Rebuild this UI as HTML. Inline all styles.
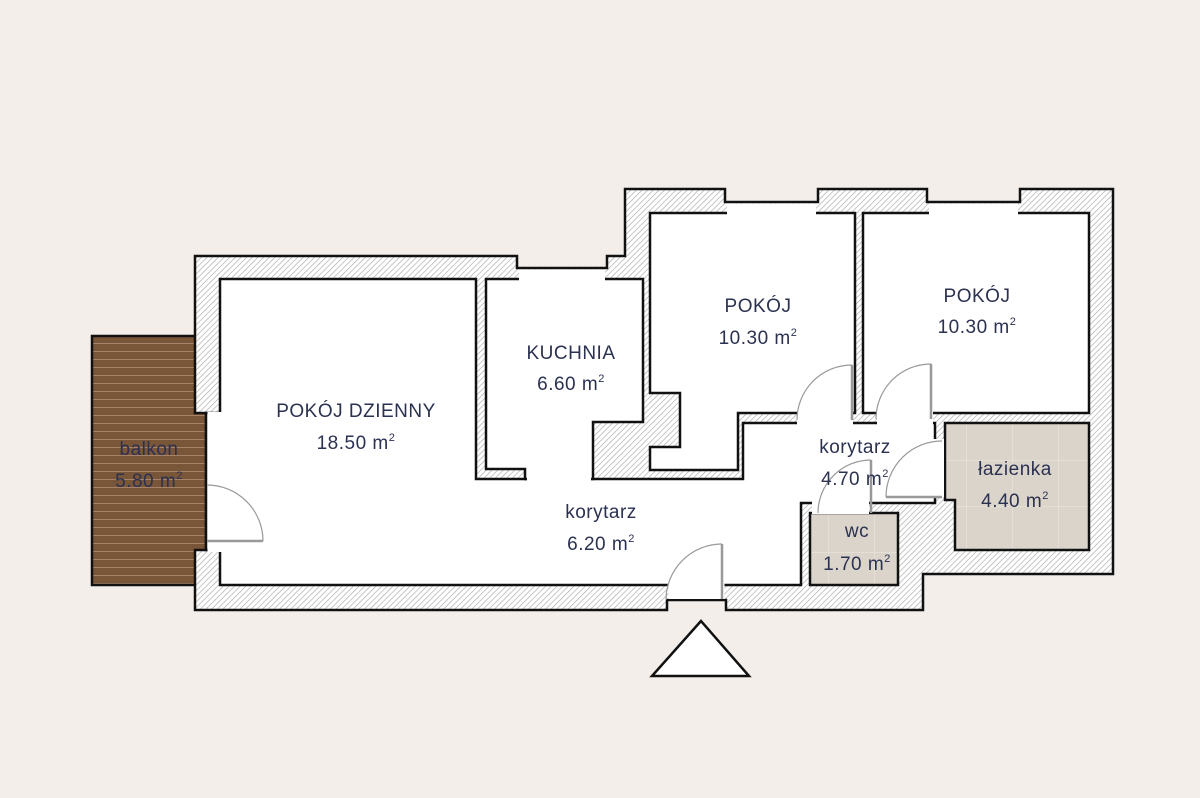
<!DOCTYPE html>
<html><head><meta charset="utf-8"><style>
html,body{margin:0;padding:0;background:#f3eeea;}
svg{display:block}
text{font-family:"Liberation Sans",sans-serif;fill:#2b3150;font-size:19px;text-anchor:middle;letter-spacing:0.5px}
</style></head><body>
<svg width="1200" height="798" viewBox="0 0 1200 798" xmlns="http://www.w3.org/2000/svg">
<defs>
<pattern id="h" width="4" height="4" patternUnits="userSpaceOnUse" patternTransform="rotate(45)">
<rect width="4" height="4" fill="#fff"/><line x1="0" y1="0" x2="0" y2="4" stroke="#a8a8a8" stroke-width="1.3"/>
</pattern>
<pattern id="t" width="46" height="46" patternUnits="userSpaceOnUse">
<rect width="46" height="46" fill="#dbd4cb"/><path d="M0 0H46M0 0V46" stroke="#ece6de" stroke-width="1.2" fill="none"/>
</pattern>
<pattern id="w" width="10" height="8" patternUnits="userSpaceOnUse">
<rect width="10" height="8" fill="#7a5638"/><line x1="0" y1="7.5" x2="10" y2="7.5" stroke="#a5826a" stroke-width="1"/>
</pattern>
</defs>
<rect width="1200" height="798" fill="#f3eeea"/>
<rect x="92" y="336" width="115" height="249" fill="url(#w)" stroke="#111" stroke-width="2.5"/>
<polygon points="195,256 517,256 517,268 607,268 607,256 625,256 625,189 725,189 725,202 818,202 818,189 927,189 927,202 1020,202 1020,189 1113,189 1113,574 923,574 923,610 726,610 726,600 667,600 667,610 195,610 195,550 206,550 206,413 195,413" fill="url(#h)" stroke="#111" stroke-width="2.5"/>
<g fill="#fff" stroke="#111" stroke-width="2.5">
<polygon points="220,279 476,279 476,479 743,479 743,423 935,423 935,503 801,503 801,585 220,585 220,550 206,550 206,413 220,413"/>
<polygon points="486,279 643,279 643,422 593,422 593,479 525,479 525,469 486,469"/>
<polygon points="650,213 855,213 855,413 738,413 738,470 650,470 650,447 680,447 680,393 650,393"/>
<polygon points="863,213 1089,213 1089,413 863,413"/>
</g>
<g fill="url(#t)" stroke="#111" stroke-width="2.5">
<polygon points="945,423 1089,423 1089,550 955,550 955,500 945,500"/>
<rect x="810" y="513" width="88" height="72"/>
</g>
<g fill="#fff">
<rect x="727" y="203.5" width="89" height="11"/>
<rect x="929" y="203.5" width="89" height="11"/>
<rect x="519" y="269.5" width="86" height="11"/>
<rect x="207.5" y="412" width="14" height="140"/>
<rect x="527" y="474" width="64" height="10"/>
<rect x="797" y="411" width="56" height="14"/>
<rect x="877" y="411" width="56" height="14"/>
<rect x="933" y="439" width="11" height="58"/>
<rect x="812" y="501" width="57" height="13"/>
<rect x="668.5" y="583" width="56" height="16"/>
</g>
<g fill="none" stroke="#999" stroke-width="1.2">
<path d="M263,541 A56,56 0 0 0 207,485"/>
<path d="M722,544 A56,56 0 0 0 666,600"/>
<path d="M852,365 A55,55 0 0 0 797,420"/>
<path d="M931,364 A55,55 0 0 0 876,419"/>
<path d="M886,497 A56,56 0 0 1 942,441"/>
<path d="M871,460 A53,53 0 0 0 818,513"/>
</g>
<g stroke="#999" stroke-width="2.5">
<line x1="207" y1="541" x2="263" y2="541"/>
<line x1="722" y1="544" x2="722" y2="600"/>
<line x1="852" y1="365" x2="852" y2="420"/>
<line x1="931" y1="364" x2="931" y2="419"/>
<line x1="886" y1="497" x2="942" y2="497"/>
<line x1="871" y1="460" x2="871" y2="513"/>
</g>
<line x1="667" y1="600" x2="726" y2="600" stroke="#111" stroke-width="2"/>
<polygon points="701,621 652,676 749,676" fill="#fff" stroke="#111" stroke-width="2.5"/>
<text x="356" y="417">POKÓJ DZIENNY</text>
<text x="356" y="449">18.50 m<tspan font-size="11" dy="-8">2</tspan></text>
<text x="571" y="359">KUCHNIA</text>
<text x="571" y="390">6.60 m<tspan font-size="11" dy="-8">2</tspan></text>
<text x="758" y="312">POKÓJ</text>
<text x="758" y="344">10.30 m<tspan font-size="11" dy="-8">2</tspan></text>
<text x="977" y="302">POKÓJ</text>
<text x="977" y="333">10.30 m<tspan font-size="11" dy="-8">2</tspan></text>
<text x="601" y="518">korytarz</text>
<text x="601" y="550">6.20 m<tspan font-size="11" dy="-8">2</tspan></text>
<text x="855" y="453">korytarz</text>
<text x="855" y="485">4.70 m<tspan font-size="11" dy="-8">2</tspan></text>
<text x="1015" y="475">łazienka</text>
<text x="1015" y="507">4.40 m<tspan font-size="11" dy="-8">2</tspan></text>
<text x="857" y="537" font-size="17">wc</text>
<text x="857" y="570">1.70 m<tspan font-size="11" dy="-8">2</tspan></text>
<text x="149" y="455">balkon</text>
<text x="149" y="487">5.80 m<tspan font-size="11" dy="-8">2</tspan></text>
</svg>
</body></html>
